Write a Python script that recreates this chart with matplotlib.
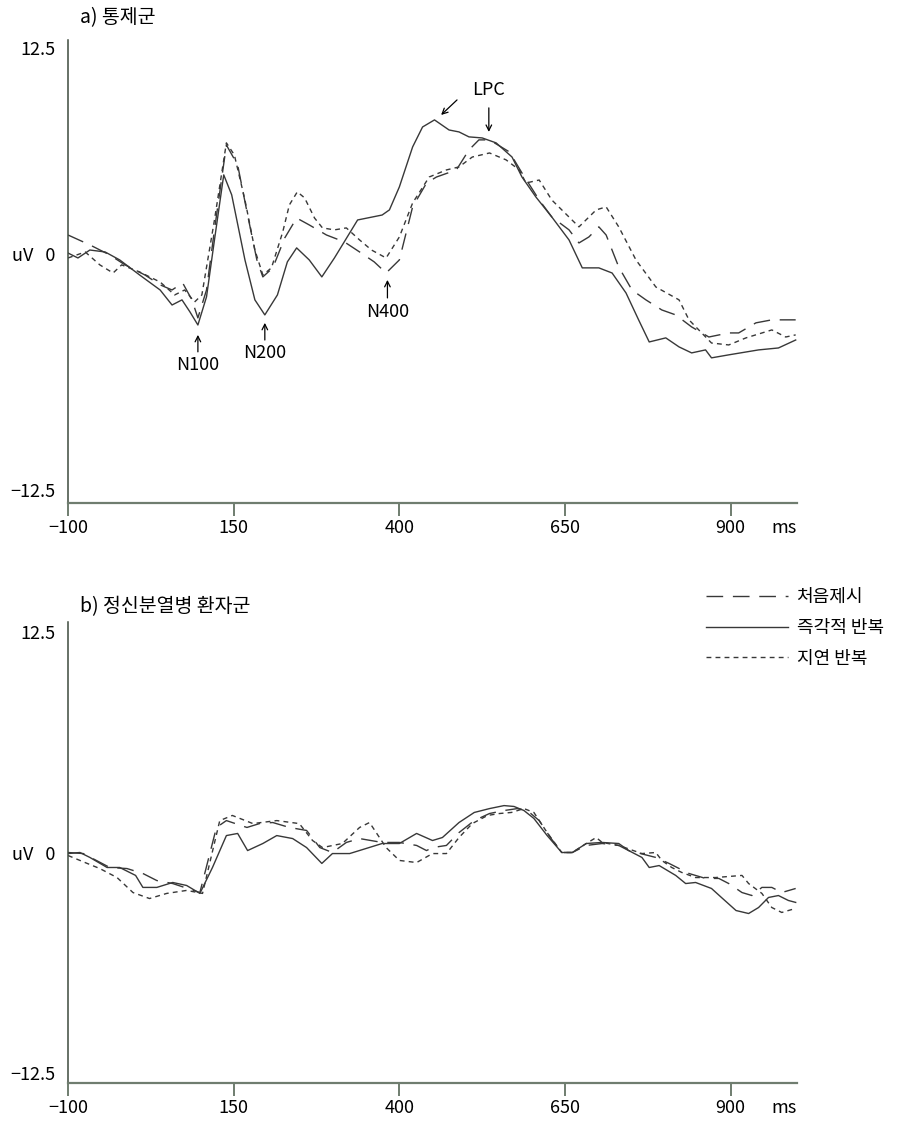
import matplotlib
matplotlib.use("Agg")
import matplotlib.pyplot as plt

plt.rcParams['font.family'] = ['Noto Sans CJK KR', 'DejaVu Sans']
plt.rcParams['axes.unicode_minus'] = True

### ERP waveforms (ms, uV) ###
# a) control group
a_first_t = [-100, -67, -37, -14, 16, 39, 57, 73, 87, 96, 109, 121, 139, 156, 171, 185, 194, 209, 227, 245,
             264, 290, 317, 340, 362, 380, 400, 420, 441, 456, 486, 505, 520, 536, 566, 585, 611, 630, 656, 671,
             686, 701, 712, 731, 751, 772, 796, 817, 841, 867, 897, 912, 938, 962, 998]
a_first_v = [1.92, 1.36, 0.79, 0.23, -0.34, -0.90, -1.19, -0.79, -1.75, -2.77, -1.19, 2.21, 7.01, 5.88, 3.05, 0.51, -0.45, 0.06, 1.75, 2.88,
             2.49, 1.92, 1.53, 0.96, 0.40, -0.23, 0.51, 3.51, 4.86, 5.20, 5.60, 6.73, 7.30, 7.30, 6.62, 5.43, 3.90, 2.94, 2.21, 1.47,
             1.81, 2.38, 1.92, 0.11, -1.19, -1.75, -2.32, -2.60, -3.28, -3.85, -3.62, -3.62, -3.05, -2.88, -2.88]

a_immed_t = [-100, -85, -67, -44, -22, 8, 39, 57, 72, 84, 96, 109, 121, 135, 147, 167, 182, 197, 216, 231,
             245, 264, 283, 302, 337, 374, 385, 400, 420, 435, 453, 475, 490, 505, 525, 546, 570, 585, 606, 630,
             656, 676, 701, 721, 742, 761, 777, 802, 822, 841, 862, 871, 897, 942, 972, 998]
a_immed_v = [0.90, 0.62, 1.07, 0.96, 0.51, -0.34, -1.19, -2.04, -1.75, -2.43, -3.17, -1.58, 1.64, 5.32, 4.19, 0.51, -1.75, -2.60, -1.47, 0.40,
             1.19, 0.51, -0.45, 0.62, 2.77, 3.05, 3.34, 4.64, 6.90, 8.03, 8.43, 7.86, 7.75, 7.47, 7.41, 7.13, 6.33, 5.20, 4.07, 2.94,
             1.64, 0.06, 0.06, -0.23, -1.36, -2.88, -4.13, -3.90, -4.41, -4.75, -4.58, -5.03, -4.86, -4.58, -4.47, -4.02]

a_delay_t = [-100, -74, -52, -32, -19, 8, 39, 61, 76, 91, 102, 121, 139, 151, 167, 182, 194, 207, 224, 234,
             246, 257, 272, 284, 302, 320, 340, 358, 380, 400, 420, 445, 471, 490, 510, 536, 561, 581, 591, 611,
             630, 671, 697, 712, 731, 757, 787, 822, 837, 871, 897, 923, 962, 983, 998]
a_delay_v = [0.62, 0.96, 0.23, -0.23, 0.23, -0.17, -0.74, -1.47, -1.19, -1.87, -1.47, 2.77, 7.13, 6.45, 3.90, 1.07, -0.34, 0.06, 2.09, 3.62,
             4.36, 4.02, 2.88, 2.32, 2.21, 2.32, 1.64, 1.07, 0.62, 1.81, 3.73, 5.20, 5.60, 5.77, 6.33, 6.56, 6.17, 5.60, 4.86, 5.03,
             3.90, 2.38, 3.34, 3.51, 2.38, 0.51, -1.02, -1.75, -2.88, -4.19, -4.30, -3.90, -3.45, -3.85, -3.73]

# b) schizophrenia group
b_first_t = [-100, -77, -37, -11, 13, 34, 58, 99, 124, 139, 170, 189, 209, 234, 260, 280, 299, 320, 340, 374,
             400, 426, 441, 450, 471, 490, 513, 536, 558, 578, 593, 611, 629, 645, 661, 682, 706, 731, 746, 787,
             807, 837, 862, 882, 897, 917, 932, 947, 962, 977, 998]
b_first_v = [0.00, -0.06, -0.85, -0.91, -1.19, -1.59, -1.76, -2.27, 1.42, 1.81, 1.42, 1.64, 1.70, 1.42, 1.25, 0.28, 0.00, 0.57, 0.79, 0.57,
             0.57, 0.40, 0.11, 0.28, 0.40, 1.13, 1.81, 2.21, 2.38, 2.49, 2.38, 1.81, 0.79, 0.00, 0.00, 0.40, 0.51, 0.40, 0.11, -0.28,
             -0.62, -1.19, -1.47, -1.47, -1.76, -2.27, -2.44, -1.98, -1.98, -2.27, -2.04]

b_immed_t = [-100, -82, -67, -41, -22, 2, 13, 34, 58, 79, 99, 118, 139, 156, 171, 194, 215, 239, 260, 283,
             299, 325, 350, 374, 400, 426, 450, 465, 490, 513, 536, 558, 573, 588, 603, 623, 645, 661, 682, 706,
             731, 746, 766, 777, 792, 817, 832, 847, 871, 886, 908, 927, 942, 957, 972, 987, 998]
b_immed_v = [-0.06, 0.00, -0.28, -0.85, -0.85, -1.30, -1.98, -1.98, -1.70, -1.87, -2.32, -0.85, 0.96, 1.08, 0.11, 0.51, 0.96, 0.79, 0.28, -0.62,
             -0.06, -0.06, 0.23, 0.51, 0.51, 1.08, 0.68, 0.85, 1.70, 2.27, 2.49, 2.66, 2.61, 2.38, 1.93, 0.96, 0.00, 0.00, 0.51, 0.57,
             0.51, 0.11, -0.28, -0.85, -0.74, -1.30, -1.76, -1.70, -2.04, -2.55, -3.29, -3.46, -3.12, -2.55, -2.44, -2.72, -2.83]

b_delay_t = [-100, -71, -52, -26, -2, 23, 49, 79, 103, 129, 148, 179, 215, 249, 269, 284, 314, 340, 355, 380,
             400, 426, 450, 471, 490, 510, 533, 551, 569, 588, 603, 623, 645, 661, 682, 697, 706, 731, 766, 787,
             796, 811, 826, 847, 877, 917, 927, 947, 962, 977, 998]
b_delay_v = [-0.17, -0.62, -0.91, -1.42, -2.27, -2.61, -2.32, -2.15, -2.32, 1.81, 2.10, 1.64, 1.81, 1.64, 0.68, 0.28, 0.51, 1.42, 1.70, 0.28,
             -0.45, -0.57, -0.06, -0.06, 0.85, 1.64, 2.10, 2.21, 2.27, 2.49, 2.27, 1.13, 0.00, 0.00, 0.51, 0.85, 0.57, 0.40, -0.06, 0.00,
             -0.45, -0.85, -1.13, -1.42, -1.42, -1.30, -1.76, -2.32, -3.12, -3.40, -3.17]

conditions = ["처음제시", "즉각적 반복", "지연 반복"]
x_ticks = [-100, 150, 400, 650, 900]

### Components marked on the control-group plot (label, ms, arrow tip uV, arrow tail uV, label uV) ###
components = [("N100", 96, -3.73, -4.69, -5.43),
              ("N200", 197, -3.05, -4.02, -4.75),
              ("N400", 382, -0.62, -1.64, -2.43)]

line_color = "#383838"
axis_dark = "#3d4a3d"
axis_gray = "#6f7d6f"
styles = [dict(linestyle=(0, (12, 7))),
          dict(linestyle="-"),
          dict(linestyle=(0, (3.5, 3)))]

fig = plt.figure(figsize=(9.09, 11.22), dpi=100)
ax_a = fig.add_axes([68/909, 1 - 503/1122, 729/909, 463/1122])
ax_b = fig.add_axes([68/909, 1 - 1083/1122, 729/909, 461/1122])


def setup_axis(ax, ylim, zero_shift):
    ax.set_xlim(-100, 1000)
    ax.set_ylim(*ylim)
    for side in ["top", "right"]:
        ax.spines[side].set_visible(False)
    ax.spines["left"].set_color(axis_dark)
    ax.spines["bottom"].set_color(axis_gray)
    ax.spines["left"].set_linewidth(1.1)
    ax.spines["bottom"].set_linewidth(1.6)
    ax.set_xticks(x_ticks)
    ax.set_xticklabels([str(t).replace("-", "\u2212") for t in x_ticks])
    ax.set_yticks([12.5, 0, -12.5])
    ax.set_yticklabels(["12.5", "", "\u221212.5"])
    ax.tick_params(axis="x", direction="out", length=9.5, width=1.4, color=axis_gray,
                   labelsize=13, pad=2)
    ax.tick_params(axis="y", length=0, labelsize=13, pad=9)
    # zero label sits a little above the baseline on the upper plot
    ax.annotate("uV   0", xy=(0, 0), xycoords=("axes fraction", "data"), xytext=(-9, zero_shift),
                textcoords="offset points", ha="right", va="center", fontsize=13)
    ax.annotate("ms", xy=(980, 0), xycoords=("data", "axes fraction"), xytext=(0, -11.5),
                textcoords="offset points", ha="center", va="top", fontsize=13)


setup_axis(ax_a, (-13.24, 12.95), 9.4)
setup_axis(ax_b, (-13.07, 13.07), -2)

### Waveforms ###
for t, v, st in zip([a_first_t, a_immed_t, a_delay_t], [a_first_v, a_immed_v, a_delay_v], styles):
    ax_a.plot(t, v, color=line_color, linewidth=1.0, **st)

handles = []
for t, v, st, name in zip([b_first_t, b_immed_t, b_delay_t], [b_first_v, b_immed_v, b_delay_v], styles, conditions):
    h, = ax_b.plot(t, v, color=line_color, linewidth=1.0, label=name, **st)
    handles.append(h)

### Component labels ###
arrow = dict(arrowstyle="->", color="black", linewidth=0.9, shrinkA=0, shrinkB=0)
for name, t, tip, tail, lab in components:
    ax_a.annotate("", xy=(t, tip), xytext=(t, tail), arrowprops=arrow)
    ax_a.text(t, lab, name, ha="center", va="center", fontsize=13)

ax_a.text(535, 10.12, "LPC", ha="center", va="center", fontsize=13)
ax_a.annotate("", xy=(463, 8.71), xytext=(487, 9.56), arrowprops=arrow)
ax_a.annotate("", xy=(535, 7.75), xytext=(535, 9.11), arrowprops=arrow)

### Titles and legend ###
fig.text(80/909, 1 - 18/1122, "a) 통제군", ha="left", va="center", fontsize=14)
fig.text(80/909, 1 - 607/1122, "b) 정신분열병 환자군", ha="left", va="center", fontsize=14)

fig.legend(handles=handles, labels=conditions, loc="upper left",
           bbox_to_anchor=(690/909, 1 - 572/1122), frameon=False, fontsize=13,
           handlelength=4.5, handletextpad=0.5, labelspacing=0.7)

fig.savefig("out.png", dpi=100, facecolor="white")
